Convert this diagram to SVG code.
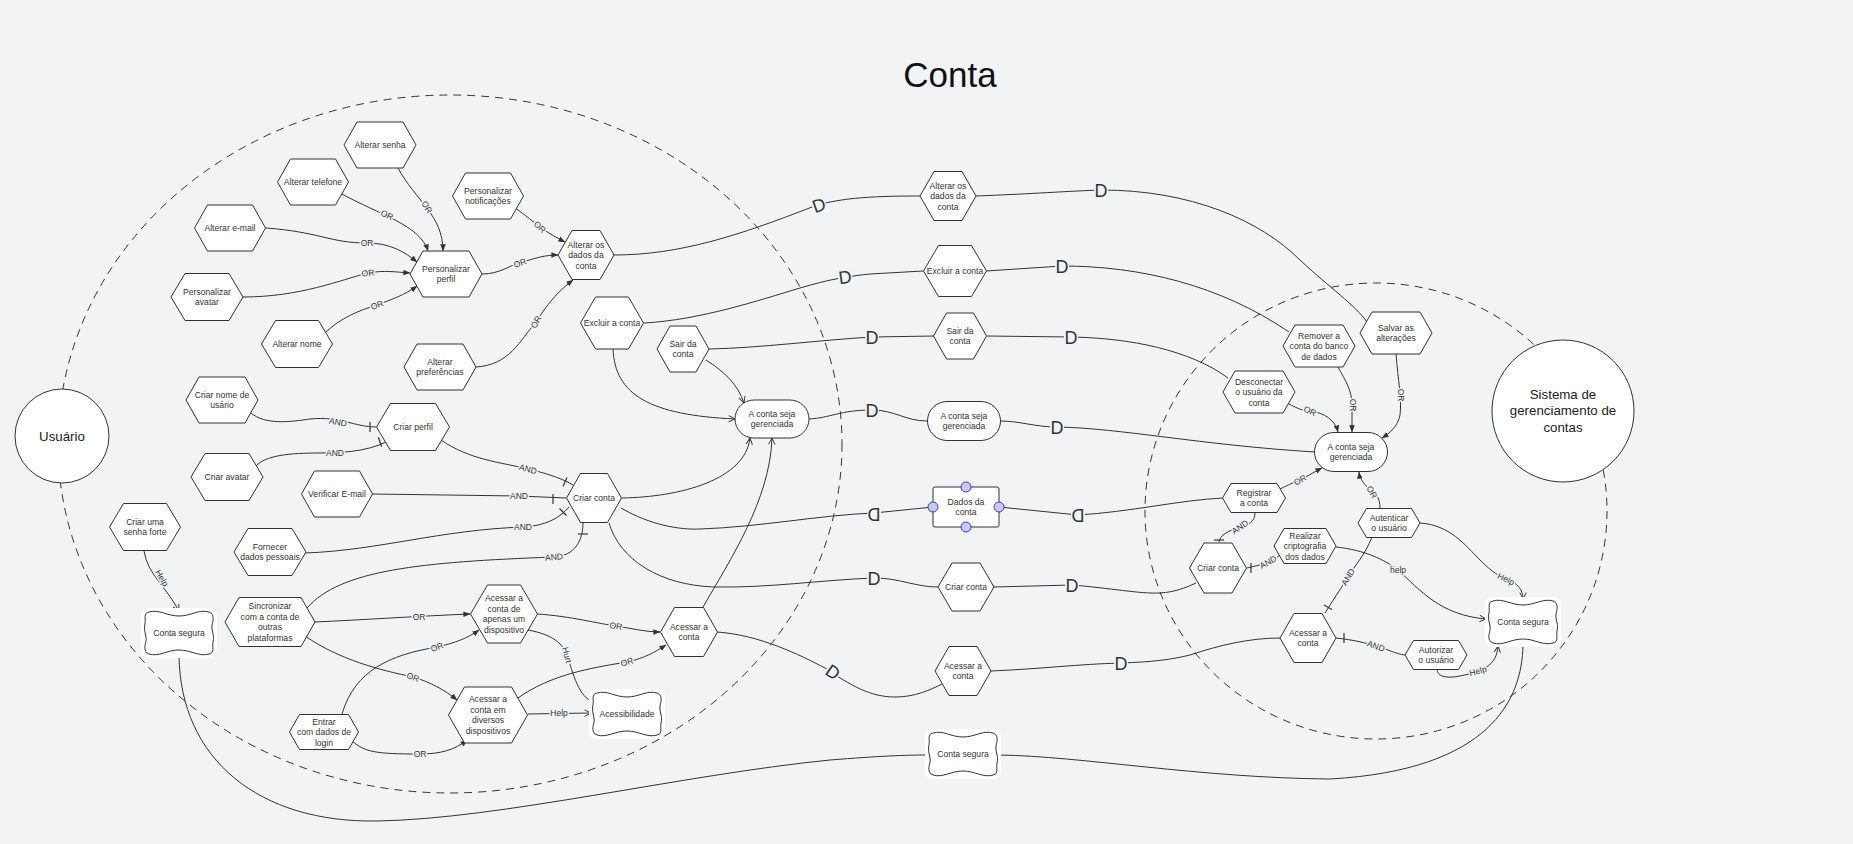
<svg xmlns="http://www.w3.org/2000/svg" width="1853" height="844" viewBox="0 0 1853 844">
<defs>
<style>
.bg{fill:#f1f3f5}
.hex,.box{fill:#fff;stroke:#333;stroke-width:1}
.t{font-family:"Liberation Sans",Arial,sans-serif;font-size:8.6px;fill:#333;text-anchor:middle}
.big{font-family:"Liberation Sans",Arial,sans-serif;font-size:13.3px;fill:#222;text-anchor:middle}
.lbl{font-family:"Liberation Sans",Arial,sans-serif;font-size:8.5px;fill:#333;text-anchor:middle;paint-order:stroke;stroke:#f1f3f5;stroke-width:3px;stroke-linejoin:round}
.D{font-family:"Liberation Sans",Arial,sans-serif;font-size:18px;fill:#333;text-anchor:middle}
.dbg{fill:#f1f3f5}
.con{fill:none;stroke:#333;stroke-width:1}
.or{marker-end:url(#af)}
.op{marker-end:url(#ao)}
.dash{fill:none;stroke:#333;stroke-width:1;stroke-dasharray:8 6}
.bar{stroke:#333;stroke-width:1.2}
.port{fill:#c8caff;stroke:#3c3ce0;stroke-width:1}
.cloud{fill:#fff;stroke:#333;stroke-width:1}
.halo{fill:#fff}
</style>
<marker id="af" viewBox="0 0 10 10" refX="9.5" refY="5" markerWidth="7" markerHeight="7" orient="auto"><path d="M0,1 L10,5 L0,9 z" fill="#333"/></marker>
<marker id="ao" viewBox="0 0 10 10" refX="9" refY="5" markerWidth="8" markerHeight="8" orient="auto"><path d="M1,1 L9,5 L1,9" fill="none" stroke="#333" stroke-width="1.2"/></marker>
<path id="cloudp" d="M-30,-21 C-20,-24 -12,-17 0,-17 C12,-17 20,-24 30,-21 C36,-19 34,-12 33,-8 C32,-3 36,3 34,9 C33,14 36,20 30,21 C20,24 12,17 0,17 C-12,17 -20,24 -30,21 C-36,19 -34,12 -33,8 C-32,3 -36,-3 -34,-9 C-33,-14 -36,-20 -30,-21 Z"/>
</defs>
<rect class="bg" x="0" y="0" width="1853" height="844"/>
<text x="950" y="87" font-family="'Liberation Sans',Arial,sans-serif" font-size="35" fill="#111" text-anchor="middle">Conta</text>
<g id="boundaries">
<ellipse class="dash" cx="450" cy="444" rx="392" ry="349"/>
<ellipse class="dash" cx="1376" cy="511" rx="231" ry="228"/>
</g>
<g id="connectors">
<path class="con or" d="M398,168 C415,200 443,215 443,251"/>
<path class="con or" d="M340,193 C380,215 420,225 428,251"/>
<path class="con or" d="M266,228 C320,232 330,243 367,243 C390,243 405,252 417,262"/>
<path class="con or" d="M243,297 C300,297 340,280 368,273 C385,270 395,272 410,273"/>
<path class="con or" d="M325,333 C340,318 360,310 377,305 C390,300 405,295 417,286"/>
<path class="con or" d="M482,274 C500,274 510,265 520,263 C535,258 545,255 558,255"/>
<path class="con or" d="M514,207 C525,215 535,223 540,227 C550,234 557,238 565,242"/>
<path class="con or" d="M476,367 C510,365 520,340 536,322 C550,300 560,290 573,280"/>
<path class="con" d="M614,255 C680,255 740,235 812,207 C840,197 880,196 920,196"/>
<path class="con" d="M976,196 C1030,194 1070,191 1101,190 C1190,190 1260,220 1300,260 C1330,288 1355,305 1367,322"/>
<path class="con" d="M644,323 C700,320 760,300 800,288 C830,279 850,276 870,274 L923,271"/>
<path class="con" d="M986,271 L1062,266 C1140,266 1220,285 1289,332"/>
<path class="con" d="M709,349 C760,348 820,340 872,337 L934,336"/>
<path class="con" d="M987,336 L1071,337 C1130,338 1190,350 1228,378"/>
<path class="con" d="M809,419 C830,418 840,410 872,410 C895,410 905,421 927,421"/>
<path class="con" d="M1000,421 C1020,421 1035,427 1057,427 C1120,428 1200,445 1315,452"/>
<path class="con" d="M621,508 C650,525 680,530 700,529 C760,527 820,515 874,513 L933,507"/>
<path class="con" d="M999,507 L1078,515 C1130,512 1180,500 1223,498"/>
<path class="con" d="M609,523 C620,560 660,585 714,587 C770,588 820,580 874,578 C900,578 915,587 938,587"/>
<path class="con" d="M994,587 L1072,585 C1110,588 1140,594 1160,593 C1175,592 1185,588 1196,583"/>
<path class="con" d="M717,632 C760,635 800,655 825,668 C850,685 870,697 895,697 C915,697 930,690 942,684"/>
<path class="con" d="M991,671 C1040,669 1080,664 1121,663 C1150,662 1170,660 1190,655 C1220,645 1250,638 1280,638"/>
<path class="con op" d="M613,349 C615,395 650,415 735,419"/>
<path class="con op" d="M706,360 C725,372 738,385 744,403"/>
<path class="con op" d="M622,498 C680,497 745,480 750,438"/>
<path class="con op" d="M703,607 C730,560 770,500 772,438"/>
<path class="con" d="M251,413 C265,425 290,422 310,419 C340,416 355,427 376,427"/>
<line class="bar" x1="370" y1="422" x2="370" y2="432"/>
<path class="con" d="M255,467 C265,455 290,453 320,453 C350,453 375,450 395,437"/>
<line class="bar" x1="378.3" y1="437.3" x2="381.7" y2="446.7"/>
<path class="con" d="M441,440 C470,460 500,462 528,469 C550,474 565,480 573,485"/>
<line class="bar" x1="567" y1="477.5" x2="563" y2="486.5"/>
<path class="con" d="M372,494 L519,496 L566,498"/>
<line class="bar" x1="553" y1="494" x2="553" y2="504"/>
<path class="con" d="M306,553 C380,550 440,530 523,527 C545,526 560,518 569,507"/>
<line class="bar" x1="559.5" y1="508.5" x2="566.5" y2="515.5"/>
<path class="con" d="M307,608 C340,570 420,562 554,557 C575,556 583,540 583,523"/>
<line class="bar" x1="578" y1="534" x2="588" y2="534"/>
<path class="con op" d="M144,551 C148,575 165,585 179,611"/>
<path class="con or" d="M315,622 C360,620 420,616 470,614"/>
<path class="con or" d="M537,614 C570,616 600,624 616,626 C630,628 645,632 660,632"/>
<path class="con op" d="M528,630 C555,635 563,645 567,655 C575,680 580,700 597,703"/>
<path class="con or" d="M305,636 C340,660 380,670 413,677 C430,682 445,690 457,700"/>
<path class="con or" d="M342,714 C355,670 390,655 437,647 C455,643 468,638 479,630"/>
<path class="con or" d="M352,741 C365,752 375,754 420,754 C440,754 455,750 467,740"/>
<path class="con or" d="M518,698 C550,675 590,668 627,662 C645,658 655,652 666,645"/>
<path class="con op" d="M528,714 L591,713"/>
<path class="con or" d="M1338,367 C1345,380 1352,390 1352,405 L1352,432"/>
<path class="con or" d="M1396,354 C1398,380 1402,400 1400,415 C1398,426 1390,433 1382,438"/>
<path class="con or" d="M1287,403 C1300,410 1305,411 1310,411 C1325,413 1335,420 1338,432"/>
<path class="con or" d="M1280,489 C1290,484 1295,482 1300,480 C1308,476 1314,472 1322,468"/>
<path class="con or" d="M1380,508 C1380,498 1376,494 1372,492 C1365,485 1360,480 1359,472"/>
<path class="con" d="M1255,513 C1255,522 1248,525 1240,527 C1228,531 1220,535 1219,542"/>
<line class="bar" x1="1214" y1="540" x2="1224" y2="540"/>
<path class="con" d="M1247,568 L1268,563 C1273,561 1276,558 1280,555"/>
<line class="bar" x1="1251" y1="563" x2="1251" y2="573"/>
<path class="con" d="M1372,537 C1365,555 1355,565 1348,577 C1340,590 1333,600 1325,613"/>
<line class="bar" x1="1324" y1="605" x2="1332" y2="609.5"/>
<path class="con" d="M1336,638 C1355,640 1365,643 1376,646 C1390,650 1396,654 1405,655"/>
<line class="bar" x1="1344" y1="633" x2="1344" y2="643"/>
<path class="con op" d="M1336,547 C1365,550 1385,560 1398,570 C1420,590 1440,615 1486,619"/>
<path class="con op" d="M1420,523 C1450,525 1465,545 1480,560 C1492,572 1500,577 1506,579 C1518,583 1523,590 1523,599"/>
<path class="con op" d="M1437,669 C1437,676 1445,679 1460,676 C1470,674 1478,672 1485,668 C1495,662 1497,655 1498,646"/>
<path class="con" d="M1523,645 C1522,700 1490,770 1330,779 C1200,778 1080,756 999,755"/>
<path class="con" d="M179,655 C180,760 260,823 377,821 C500,819 680,775 830,760 C880,756 905,755 927,755"/>
<g transform="translate(819,205) rotate(-20)"><rect class="dbg" x="-7" y="-7.5" width="14" height="15"/><text class="D" y="6.5">D</text></g>
<g transform="translate(1101,190)"><rect class="dbg" x="-7" y="-7.5" width="14" height="15"/><text class="D" y="6.5">D</text></g>
<g transform="translate(845,277) rotate(-8)"><rect class="dbg" x="-7" y="-7.5" width="14" height="15"/><text class="D" y="6.5">D</text></g>
<g transform="translate(1062,266)"><rect class="dbg" x="-7" y="-7.5" width="14" height="15"/><text class="D" y="6.5">D</text></g>
<g transform="translate(872,337)"><rect class="dbg" x="-7" y="-7.5" width="14" height="15"/><text class="D" y="6.5">D</text></g>
<g transform="translate(1071,337)"><rect class="dbg" x="-7" y="-7.5" width="14" height="15"/><text class="D" y="6.5">D</text></g>
<g transform="translate(872,410)"><rect class="dbg" x="-7" y="-7.5" width="14" height="15"/><text class="D" y="6.5">D</text></g>
<g transform="translate(1057,427)"><rect class="dbg" x="-7" y="-7.5" width="14" height="15"/><text class="D" y="6.5">D</text></g>
<g transform="translate(874,514) scale(-1,1)"><rect class="dbg" x="-7" y="-7.5" width="14" height="15"/><text class="D" y="6.5">D</text></g>
<g transform="translate(1078,515) scale(-1,1)"><rect class="dbg" x="-7" y="-7.5" width="14" height="15"/><text class="D" y="6.5">D</text></g>
<g transform="translate(874,578)"><rect class="dbg" x="-7" y="-7.5" width="14" height="15"/><text class="D" y="6.5">D</text></g>
<g transform="translate(1072,585)"><rect class="dbg" x="-7" y="-7.5" width="14" height="15"/><text class="D" y="6.5">D</text></g>
<g transform="translate(833,672) rotate(35)"><rect class="dbg" x="-7" y="-7.5" width="14" height="15"/><text class="D" y="6.5">D</text></g>
<g transform="translate(1121,663)"><rect class="dbg" x="-7" y="-7.5" width="14" height="15"/><text class="D" y="6.5">D</text></g>
<text class="lbl" transform="translate(427,207) rotate(60)" y="3">OR</text>
<text class="lbl" transform="translate(387,215) rotate(25)" y="3">OR</text>
<text class="lbl" transform="translate(367,243)" y="3">OR</text>
<text class="lbl" transform="translate(368,273) rotate(-8)" y="3">OR</text>
<text class="lbl" transform="translate(377,305) rotate(-20)" y="3">OR</text>
<text class="lbl" transform="translate(520,263) rotate(-20)" y="3">OR</text>
<text class="lbl" transform="translate(540,227) rotate(45)" y="3">OR</text>
<text class="lbl" transform="translate(536,322) rotate(-60)" y="3">OR</text>
<text class="lbl" transform="translate(419,617)" y="3">OR</text>
<text class="lbl" transform="translate(616,626) rotate(8)" y="3">OR</text>
<text class="lbl" transform="translate(413,677) rotate(20)" y="3">OR</text>
<text class="lbl" transform="translate(437,647) rotate(-20)" y="3">OR</text>
<text class="lbl" transform="translate(420,754)" y="3">OR</text>
<text class="lbl" transform="translate(627,662) rotate(-15)" y="3">OR</text>
<text class="lbl" transform="translate(1353,405) rotate(90)" y="3">OR</text>
<text class="lbl" transform="translate(1401,395) rotate(90)" y="3">OR</text>
<text class="lbl" transform="translate(1310,411) rotate(25)" y="3">OR</text>
<text class="lbl" transform="translate(1300,480) rotate(-30)" y="3">OR</text>
<text class="lbl" transform="translate(1372,492) rotate(60)" y="3">OR</text>
<text class="lbl" transform="translate(338,422) rotate(10)" y="3">AND</text>
<text class="lbl" transform="translate(335,453)" y="3">AND</text>
<text class="lbl" transform="translate(528,469) rotate(15)" y="3">AND</text>
<text class="lbl" transform="translate(519,496)" y="3">AND</text>
<text class="lbl" transform="translate(523,527)" y="3">AND</text>
<text class="lbl" transform="translate(554,557) rotate(-5)" y="3">AND</text>
<text class="lbl" transform="translate(1240,527) rotate(-35)" y="3">AND</text>
<text class="lbl" transform="translate(1268,562) rotate(-30)" y="3">AND</text>
<text class="lbl" transform="translate(1348,577) rotate(-60)" y="3">AND</text>
<text class="lbl" transform="translate(1376,646) rotate(20)" y="3">AND</text>
<text class="lbl" transform="translate(162,578) rotate(60)" y="3">Help</text>
<text class="lbl" transform="translate(567,655) rotate(75)" y="3">Hurt</text>
<text class="lbl" transform="translate(559,713)" y="3">Help</text>
<text class="lbl" transform="translate(1398,570)" y="3">help</text>
<text class="lbl" transform="translate(1506,579) rotate(25)" y="3">Help</text>
<text class="lbl" transform="translate(1478,671) rotate(-15)" y="3">Help</text>
</g>
<g id="n-usuario"><circle class="box" cx="62" cy="436" r="47"/><text class="big" x="62" y="441">Usuário</text></g>
<g id="n-sistema"><circle class="box" cx="1563" cy="411" r="71"/><text class="big" x="1563" y="398.5">Sistema de<tspan x="1563" dy="16.5">gerenciamento de</tspan><tspan x="1563" dy="16.5">contas</tspan></text></g>
<g id="n-alterar-senha"><polygon class="hex" points="344,145 357,122 403,122 416,145 403,168 357,168"/><text class="t" x="380" y="148">Alterar senha</text></g>
<g id="n-alterar-telefone"><polygon class="hex" points="277.5,182 290.5,159 335.5,159 348.5,182 335.5,205 290.5,205"/><text class="t" x="313" y="185">Alterar telefone</text></g>
<g id="n-alterar-email"><polygon class="hex" points="194.5,228 207.5,205 252.5,205 265.5,228 252.5,251 207.5,251"/><text class="t" x="230" y="231">Alterar e-mail</text></g>
<g id="n-personalizar-avatar"><polygon class="hex" points="171,297 185,273.5 229,273.5 243,297 229,320.5 185,320.5"/><text class="t" x="207" y="294.75">Personalizar<tspan x="207" dy="10.5">avatar</tspan></text></g>
<g id="n-alterar-nome"><polygon class="hex" points="261.5,344 275.5,320.5 318.5,320.5 332.5,344 318.5,367.5 275.5,367.5"/><text class="t" x="297" y="347">Alterar nome</text></g>
<g id="n-personalizar-perfil"><polygon class="hex" points="410,274 423,251 469,251 482,274 469,297 423,297"/><text class="t" x="446" y="271.75">Personalizar<tspan x="446" dy="10.5">perfil</tspan></text></g>
<g id="n-personalizar-notificacoes"><polygon class="hex" points="452.5,196 465.5,173 510.5,173 523.5,196 510.5,219 465.5,219"/><text class="t" x="488" y="193.75">Personalizar<tspan x="488" dy="10.5">notificações</tspan></text></g>
<g id="n-alterar-dados-l"><polygon class="hex" points="558,255 572,230.5 600,230.5 614,255 600,279.5 572,279.5"/><text class="t" x="586" y="247.5">Alterar os<tspan x="586" dy="10.5">dados da</tspan><tspan x="586" dy="10.5">conta</tspan></text></g>
<g id="n-alterar-preferencias"><polygon class="hex" points="404,367 417,344 463,344 476,367 463,390 417,390"/><text class="t" x="440" y="364.75">Alterar<tspan x="440" dy="10.5">preferências</tspan></text></g>
<g id="n-excluir-l"><polygon class="hex" points="580.5,323 595.5,297 628.5,297 643.5,323 628.5,349 595.5,349"/><text class="t" x="612" y="326">Excluir a conta</text></g>
<g id="n-sair-l"><polygon class="hex" points="657,349 670,326 696,326 709,349 696,372 670,372"/><text class="t" x="683" y="346.75">Sair da<tspan x="683" dy="10.5">conta</tspan></text></g>
<g id="n-gerenciada-l"><rect class="box" x="735" y="400" width="74" height="38" rx="19"/><text class="t" x="772" y="416.75">A conta seja<tspan x="772" dy="10.5">gerenciada</tspan></text></g>
<g id="n-alterar-dados-m"><polygon class="hex" points="920,196 934,171.5 962,171.5 976,196 962,220.5 934,220.5"/><text class="t" x="948" y="188.5">Alterar os<tspan x="948" dy="10.5">dados da</tspan><tspan x="948" dy="10.5">conta</tspan></text></g>
<g id="n-excluir-m"><polygon class="hex" points="923.5,271 938.5,245.5 971.5,245.5 986.5,271 971.5,296.5 938.5,296.5"/><text class="t" x="955" y="274">Excluir a conta</text></g>
<g id="n-sair-m"><polygon class="hex" points="933.5,336 946.5,313 973.5,313 986.5,336 973.5,359 946.5,359"/><text class="t" x="960" y="333.75">Sair da<tspan x="960" dy="10.5">conta</tspan></text></g>
<g id="n-gerenciada-m"><rect class="box" x="927.5" y="401.5" width="73" height="39" rx="19.5"/><text class="t" x="964" y="418.75">A conta seja<tspan x="964" dy="10.5">gerenciada</tspan></text></g>
<g id="n-dados-conta"><rect class="box" x="933" y="487" width="66" height="40" rx="2"/><text class="t" x="966" y="504.75">Dados da<tspan x="966" dy="10.5">conta</tspan></text><circle class="port" cx="966" cy="487" r="5"/><circle class="port" cx="966" cy="527" r="5"/><circle class="port" cx="933" cy="507" r="5"/><circle class="port" cx="999" cy="507" r="5"/></g>
<g id="n-criar-conta-m"><polygon class="hex" points="938,587 952,563 980,563 994,587 980,611 952,611"/><text class="t" x="966" y="590">Criar conta</text></g>
<g id="n-acessar-m"><polygon class="hex" points="935,671 949,646.5 977,646.5 991,671 977,695.5 949,695.5"/><text class="t" x="963" y="668.75">Acessar a<tspan x="963" dy="10.5">conta</tspan></text></g>
<g id="n-criar-nome"><polygon class="hex" points="186,400 199,377 245,377 258,400 245,423 199,423"/><text class="t" x="222" y="397.75">Criar nome de<tspan x="222" dy="10.5">usário</tspan></text></g>
<g id="n-criar-perfil"><polygon class="hex" points="376.5,427 390.5,403.5 435.5,403.5 449.5,427 435.5,450.5 390.5,450.5"/><text class="t" x="413" y="430">Criar perfil</text></g>
<g id="n-criar-avatar"><polygon class="hex" points="191,477 205,453.5 249,453.5 263,477 249,500.5 205,500.5"/><text class="t" x="227" y="480">Criar avatar</text></g>
<g id="n-verificar-email"><polygon class="hex" points="301.5,494 314.5,471 359.5,471 372.5,494 359.5,517 314.5,517"/><text class="t" x="337" y="497">Verificar E-mail</text></g>
<g id="n-senha-forte"><polygon class="hex" points="109.5,527 123.5,503.5 166.5,503.5 180.5,527 166.5,550.5 123.5,550.5"/><text class="t" x="145" y="524.75">Criar uma<tspan x="145" dy="10.5">senha forte</tspan></text></g>
<g id="n-fornecer"><polygon class="hex" points="234,552 248,528.5 292,528.5 306,552 292,575.5 248,575.5"/><text class="t" x="270" y="549.75">Fornecer<tspan x="270" dy="10.5">dados pessoais</tspan></text></g>
<g id="n-criar-conta-l"><polygon class="hex" points="566.5,498 580.5,473.5 607.5,473.5 621.5,498 607.5,522.5 580.5,522.5"/><text class="t" x="594" y="501">Criar conta</text></g>
<g id="n-conta-segura-l"><rect class="halo" x="141" y="608" width="76" height="50" rx="8"/><use href="#cloudp" class="cloud" transform="translate(179,633)"/><text class="t" x="179" y="636">Conta segura</text></g>
<g id="n-sincronizar"><polygon class="hex" points="225,622 239,597.5 301,597.5 315,622 301,646.5 239,646.5"/><text class="t" x="270" y="609.25">Sincronizar<tspan x="270" dy="10.5">com a conta de</tspan><tspan x="270" dy="10.5">outras</tspan><tspan x="270" dy="10.5">plataformas</tspan></text></g>
<g id="n-acessar-apenas"><polygon class="hex" points="470.5,614 487.5,585 520.5,585 537.5,614 520.5,643 487.5,643"/><text class="t" x="504" y="601.25">Acessar a<tspan x="504" dy="10.5">conta de</tspan><tspan x="504" dy="10.5">apenas um</tspan><tspan x="504" dy="10.5">dispositivo</tspan></text></g>
<g id="n-acessar-l"><polygon class="hex" points="660.5,632 674.5,607.5 703.5,607.5 717.5,632 703.5,656.5 674.5,656.5"/><text class="t" x="689" y="629.75">Acessar a<tspan x="689" dy="10.5">conta</tspan></text></g>
<g id="n-acessar-diversos"><polygon class="hex" points="448.5,715 464.5,687 511.5,687 527.5,715 511.5,743 464.5,743"/><text class="t" x="488" y="702.25">Acessar a<tspan x="488" dy="10.5">conta em</tspan><tspan x="488" dy="10.5">diversos</tspan><tspan x="488" dy="10.5">dispositivos</tspan></text></g>
<g id="n-entrar"><polygon class="hex" points="289.5,732 299.5,714.5 348.5,714.5 358.5,732 348.5,749.5 299.5,749.5"/><text class="t" x="324" y="724.5">Entrar<tspan x="324" dy="10.5">com dados de</tspan><tspan x="324" dy="10.5">login</tspan></text></g>
<g id="n-acessibilidade"><rect class="halo" x="589" y="689" width="76" height="50" rx="8"/><use href="#cloudp" class="cloud" transform="translate(627,714)"/><text class="t" x="627" y="717">Acessibilidade</text></g>
<g id="n-conta-segura-b"><rect class="halo" x="925" y="729" width="76" height="50" rx="8"/><use href="#cloudp" class="cloud" transform="translate(963,754)"/><text class="t" x="963" y="757">Conta segura</text></g>
<g id="n-remover"><polygon class="hex" points="1283,346 1295,325 1343,325 1355,346 1343,367 1295,367"/><text class="t" x="1319" y="338.5">Remover a<tspan x="1319" dy="10.5">conta do banco</tspan><tspan x="1319" dy="10.5">de dados</tspan></text></g>
<g id="n-salvar"><polygon class="hex" points="1360,333 1372,312 1420,312 1432,333 1420,354 1372,354"/><text class="t" x="1396" y="330.75">Salvar as<tspan x="1396" dy="10.5">alterações</tspan></text></g>
<g id="n-desconectar"><polygon class="hex" points="1223,392 1235,371 1283,371 1295,392 1283,413 1235,413"/><text class="t" x="1259" y="384.5">Desconectar<tspan x="1259" dy="10.5">o usuário da</tspan><tspan x="1259" dy="10.5">conta</tspan></text></g>
<g id="n-gerenciada-r"><rect class="box" x="1314.5" y="432.5" width="73" height="39" rx="19.5"/><text class="t" x="1351" y="449.75">A conta seja<tspan x="1351" dy="10.5">gerenciada</tspan></text></g>
<g id="n-registrar"><polygon class="hex" points="1222.5,498 1231,483.5 1277,483.5 1285.5,498 1277,512.5 1231,512.5"/><text class="t" x="1254" y="495.75">Registrar<tspan x="1254" dy="10.5">a conta</tspan></text></g>
<g id="n-autenticar"><polygon class="hex" points="1358,523 1366.5,508.5 1411.5,508.5 1420,523 1411.5,537.5 1366.5,537.5"/><text class="t" x="1389" y="520.75">Autenticar<tspan x="1389" dy="10.5">o usuário</tspan></text></g>
<g id="n-criar-conta-r"><polygon class="hex" points="1189.5,568 1204,543 1232,543 1246.5,568 1232,593 1204,593"/><text class="t" x="1218" y="571">Criar conta</text></g>
<g id="n-criptografia"><polygon class="hex" points="1274,546 1284,528.5 1326,528.5 1336,546 1326,563.5 1284,563.5"/><text class="t" x="1305" y="538.5">Realizar<tspan x="1305" dy="10.5">criptografia</tspan><tspan x="1305" dy="10.5">dos dados</tspan></text></g>
<g id="n-acessar-r"><polygon class="hex" points="1280,638 1294,613.5 1322,613.5 1336,638 1322,662.5 1294,662.5"/><text class="t" x="1308" y="635.75">Acessar a<tspan x="1308" dy="10.5">conta</tspan></text></g>
<g id="n-autorizar"><polygon class="hex" points="1405,655 1413.5,640.5 1458.5,640.5 1467,655 1458.5,669.5 1413.5,669.5"/><text class="t" x="1436" y="652.75">Autorizar<tspan x="1436" dy="10.5">o usuário</tspan></text></g>
<g id="n-conta-segura-r"><rect class="halo" x="1485" y="597" width="76" height="50" rx="8"/><use href="#cloudp" class="cloud" transform="translate(1523,622)"/><text class="t" x="1523" y="625">Conta segura</text></g>
</svg>
